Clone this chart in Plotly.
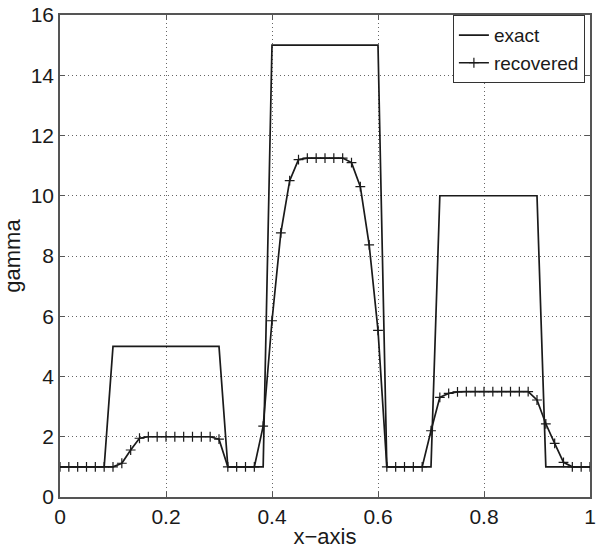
import plotly.graph_objects as go

n_points = 61
x_vals = [i / 60 for i in range(n_points)]

exact = ([1] * 6 + [5] * 13 + [1] * 5 + [15] * 13 + [1] * 6 + [10] * 12 + [1] * 6)

recovered = ([1, 1, 1, 1, 1, 1, 1, 1.12, 1.56, 1.95]
             + [2.0] * 8
             + [1.92, 1, 1, 1, 1, 2.35, 5.85, 8.77, 10.5, 11.2]
             + [11.25] * 5
             + [11.1, 10.3, 8.37, 5.53, 1, 1, 1, 1, 1, 2.2, 3.31, 3.44, 3.49]
             + [3.5] * 8
             + [3.22, 2.43, 1.78, 1.15, 1, 1, 1])

x_ticks = [0, 0.2, 0.4, 0.6, 0.8, 1]
y_ticks = [0, 2, 4, 6, 8, 10, 12, 14, 16]

font_family = "Liberation Sans, Arial, sans-serif"
ink = "#1a1a1a"

fig = go.Figure()
fig.add_trace(go.Scatter(x=x_vals, y=exact, mode="lines", name="exact",
                         line=dict(color=ink, width=1.7)))
fig.add_trace(go.Scatter(x=x_vals, y=recovered, mode="lines+markers", name="recovered",
                         line=dict(color=ink, width=1.7),
                         marker=dict(symbol="cross-thin", size=7,
                                     line=dict(color=ink, width=1.2))))

axis_common = dict(
    showline=True, linecolor="#555", linewidth=1.6, mirror="ticks",
    ticks="inside", ticklen=5, tickcolor="#555",
    showgrid=True, gridcolor="#666", griddash="1px,3px", gridwidth=1,
    zeroline=False, automargin=False, ticklabeloverflow="allow",
    tickfont=dict(family=font_family, size=21, color=ink),
)

fig.update_xaxes(range=[0, 1], tickvals=x_ticks, ticktext=[str(v) for v in x_ticks],
                 title=dict(text="x\u2212axis", font=dict(family=font_family, size=22, color=ink),
                            standoff=2),
                 **axis_common)
fig.update_yaxes(range=[0, 16], tickvals=y_ticks, ticktext=[str(v) for v in y_ticks],
                 title=dict(text="gamma", font=dict(family=font_family, size=22, color=ink),
                            standoff=4),
                 **axis_common)

fig.update_layout(
    width=600, height=555,
    margin=dict(l=60, r=10, t=15, b=58),
    plot_bgcolor="white", paper_bgcolor="white",
    showlegend=True,
    legend=dict(x=0.99, y=1.0, xanchor="right", yanchor="top",
                bgcolor="white", bordercolor="#333", borderwidth=1.2,
                font=dict(family=font_family, size=19, color=ink),
                itemwidth=30, tracegroupgap=0),
)

fig.write_html("out.html",
               config={"displayModeBar": False},
               post_script="document.body.style.margin='0';document.body.style.overflow='hidden';")
